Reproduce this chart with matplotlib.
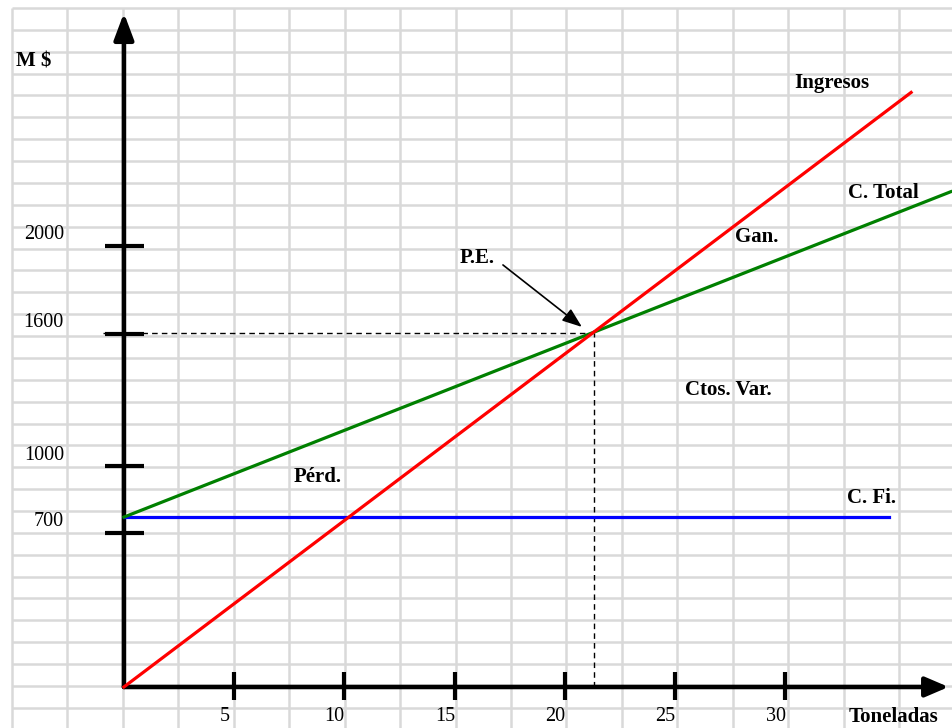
import numpy as np
import matplotlib.pyplot as plt

# values (x in toneladas, y in M$)
ingresos_x = [0, 35.7]
ingresos_y = [0, 2695]
ctotal_x = [0, 37.5]
ctotal_y = [770, 2245]
cfijo_x = [0, 34.7]
cfijo_y = [770, 770]
pe_x, pe_y = 21.3, 1605

y_ticks = [700, 1000, 1600, 2000]
y_labels = ["700", "1000", "1600", "2000"]
x_ticks = [5, 10, 15, 20, 25, 30]
x_labels = ["5", "10", "15", "20", "25", "30"]

plt.rcParams['font.family'] = ['Liberation Serif', 'DejaVu Serif']

W, H = 953, 728
fig = plt.figure(figsize=(W / 100, H / 100), dpi=100)

# spreadsheet grid in the background (pixel coordinates)
bg = fig.add_axes([0, 0, 1, 1])
bg.set_xlim(0, W)
bg.set_ylim(H, 0)
bg.axis("off")
cols = 12 + 55.44 * np.arange(0, 18)
rows = 8 + 21.87 * np.arange(0, 34)
bg.vlines(cols, 8, H, color="#d9d9d9", lw=1.8)
bg.hlines(rows, 12, W, color="#d9d9d9", lw=1.8)

ax = fig.add_axes([0, 0, 1, 1])
ax.patch.set_alpha(0)
ax.set_xlim(-5.62, 37.6)
ax.set_ylim(-186, 3114)
ax.axis("off")

# axes with arrows
ax.annotate("", xy=(37.4, 0), xytext=(0, 0),
            arrowprops=dict(arrowstyle="-|>,head_length=1.4,head_width=0.6",
                            lw=3.3, color="black", shrinkA=0, shrinkB=0))
ax.annotate("", xy=(0, 3055), xytext=(0, 0),
            arrowprops=dict(arrowstyle="-|>,head_length=1.6,head_width=0.6",
                            lw=3.3, color="black", shrinkA=0, shrinkB=0))

for t, lab in zip(y_ticks, y_labels):
    ax.plot([-0.85, 0.9], [t, t], color="black", lw=3, solid_capstyle="butt")
    ax.annotate(lab, (-2.72, t), xytext=(0, 8), textcoords="offset points",
                ha="right", va="center", fontsize=14.5)
for t, lab in zip(x_ticks, x_labels):
    ax.plot([t, t], [-60, 66], color="black", lw=3, solid_capstyle="butt")
    ax.annotate(lab, (t, 0), xytext=(-7, -21.5), textcoords="offset points",
                ha="center", va="center", fontsize=14.5)

# cost / revenue lines
ax.plot(cfijo_x, cfijo_y, color="#0000ff", lw=2.3, zorder=3)
ax.plot(ctotal_x, ctotal_y, color="#008000", lw=2.3, zorder=3)
ax.plot(ingresos_x, ingresos_y, color="#ff0000", lw=2.3, zorder=4)

# break-even guides
ax.plot([-0.95, pe_x], [pe_y, pe_y], color="black", lw=1, ls=(0, (4, 3)), zorder=2)
ax.plot([pe_x, pe_x], [0, pe_y], color="black", lw=1, ls=(0, (4, 3)), zorder=2)
ax.annotate("", xy=(20.77, 1632), xytext=(17.19, 1913),
            arrowprops=dict(arrowstyle="-|>,head_length=1.2,head_width=0.45",
                            lw=1.2, color="black", shrinkA=0, shrinkB=0))

bold = dict(fontsize=15, fontweight="bold", va="center")
ax.text(-4.9, 2833, "M $", ha="left", **bold)
ax.text(32.11, 2738, "Ingresos", ha="center", **bold)
ax.text(34.42, 2239, "C. Total", ha="center", **bold)
ax.text(28.71, 2040, "Gan.", ha="center", **bold)
ax.text(16.01, 1945, "P.E.", ha="center", **bold)
ax.text(27.39, 1346, "Ctos. Var.", ha="center", **bold)
ax.text(8.80, 952, "Pérd.", ha="center", **bold)
ax.text(33.92, 857, "C. Fi.", ha="center", **bold)
ax.text(34.88, -136, "Toneladas", ha="center", **bold)

fig.savefig("out.png", dpi=100)
